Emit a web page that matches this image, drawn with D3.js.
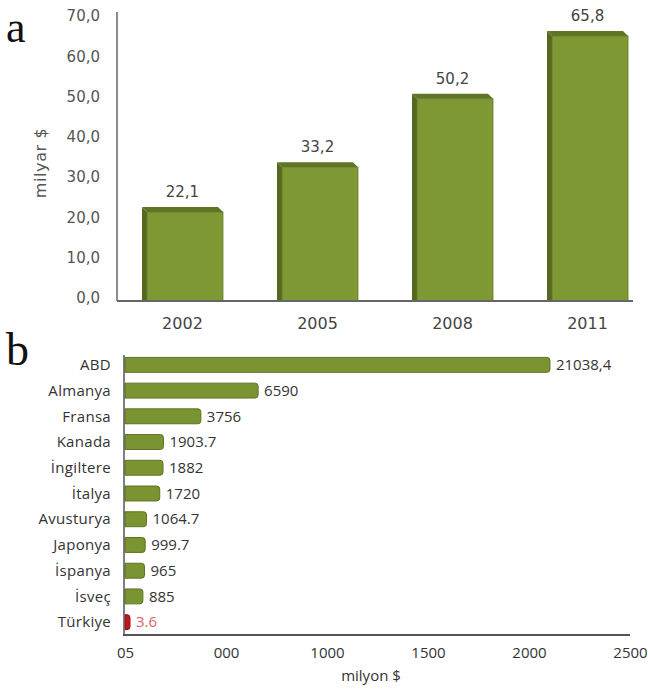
<!DOCTYPE html>
<html>
<head>
<meta charset="utf-8">
<script src="https://cdn.jsdelivr.net/npm/d3@7"></script>
<style>
  body { margin: 0; background: #fff; }
  svg { display: block; }
</style>
</head>
<body>
<svg id="chart" width="648" height="691"></svg>
<script>
// (a) yearly totals, billion $
const years = ["2002", "2005", "2008", "2011"];
const totals = [22.1, 33.2, 50.2, 65.8];
const totalTicks = [0, 10, 20, 30, 40, 50, 60, 70];

// (b) totals by country, million $
const countries = ["ABD", "Almanya", "Fransa", "Kanada", "İngiltere", "İtalya",
                   "Avusturya", "Japonya", "İspanya", "İsveç", "Türkiye"];
const amounts = [21038.4, 6590, 3756, 1903.7, 1882, 1720, 1064.7, 999.7, 965, 885, 3.6];
const amountLabels = ["21038,4", "6590", "3756", "1903.7", "1882", "1720",
                      "1064.7", "999.7", "965", "885", "3.6"];
const amountTicks = [0, 5000, 10000, 15000, 20000, 25000];
const amountTickLabels = ["05", "000", "1000", "1500", "2000", "2500"];
const highlighted = "Türkiye";

const svg = d3.select("#chart");
const topFont = "'DejaVu Sans', Verdana, sans-serif";
const botFont = "'Open Sans', 'Noto Sans', sans-serif";

// ---------- panel letters ----------
svg.append("text").attr("x", 6).attr("y", 42)
  .attr("font-family", "'Liberation Serif', 'Times New Roman', serif")
  .attr("font-size", 44).attr("fill", "#111").text("a");
svg.append("text").attr("x", 6).attr("y", 365)
  .attr("font-family", "'Liberation Serif', 'Times New Roman', serif")
  .attr("font-size", 46).attr("fill", "#111").text("b");

// ---------- (a) 3D column chart ----------
const xA = d3.scaleBand().domain(years).range([117, 653])
  .paddingInner(0.4).paddingOuter(0.185);
const yA = d3.scaleLinear().domain([0, 70]).range([301, 19]);
const depth = 5;
const gA = svg.append("g");

gA.append("g")
  .attr("transform", "translate(117,0)")
  .call(d3.axisLeft(yA).tickValues(totalTicks).tickSize(0).tickPadding(17)
    .tickFormat(d => d3.format(".1f")(d).replace(".", ",")))
  .call(g => g.select(".domain").remove())
  .selectAll("text")
  .attr("font-family", topFont).attr("font-size", 15)
  .attr("fill", "#555").attr("dy", "0.12em");

gA.append("line")
  .attr("x1", 117).attr("x2", 117)
  .attr("y1", yA(70) - 7).attr("y2", yA(0))
  .attr("stroke", "#666").attr("stroke-width", 1.5);

const yearData = years.map((yr, i) => ({ year: yr, value: totals[i] }));
const bars = gA.selectAll("g.bar").data(yearData).join("g").attr("class", "bar");

// left side face
bars.append("polygon")
  .attr("points", d => {
    const bx = xA(d.year), yv = yA(d.value), yb = yA(0);
    return [[bx + depth, yv], [bx, yv - depth], [bx, yb], [bx + depth, yb]].join(" ");
  })
  .attr("fill", "#56681d");

// top face
bars.append("polygon")
  .attr("points", d => {
    const bx = xA(d.year), bw = xA.bandwidth(), yv = yA(d.value);
    return [[bx + depth, yv], [bx, yv - depth], [bx + bw - depth, yv - depth], [bx + bw, yv]].join(" ");
  })
  .attr("fill", "#5f7424");

// front face
bars.append("rect")
  .attr("x", d => xA(d.year) + depth)
  .attr("y", d => yA(d.value))
  .attr("width", xA.bandwidth() - depth)
  .attr("height", d => yA(0) - yA(d.value))
  .attr("fill", "#7e9834")
  .attr("stroke", "#66792a").attr("stroke-width", 0.8);

bars.append("text")
  .attr("x", d => xA(d.year) + xA.bandwidth() / 2)
  .attr("y", d => yA(d.value) - 15)
  .attr("text-anchor", "middle")
  .attr("font-family", topFont).attr("font-size", 15).attr("fill", "#444")
  .text(d => d3.format(".1f")(d.value).replace(".", ","));

gA.append("line")
  .attr("x1", 117).attr("x2", 633)
  .attr("y1", yA(0)).attr("y2", yA(0))
  .attr("stroke", "#666").attr("stroke-width", 2);

gA.append("g")
  .attr("transform", `translate(0,${yA(0)})`)
  .call(d3.axisBottom(xA).tickSize(0).tickPadding(17))
  .call(g => g.select(".domain").remove())
  .selectAll("text")
  .attr("font-family", topFont).attr("font-size", 16).attr("fill", "#444");

gA.append("text")
  .attr("transform", "translate(46,163) rotate(-90)")
  .attr("text-anchor", "middle")
  .attr("font-family", topFont).attr("font-size", 16).attr("fill", "#555")
  .attr("letter-spacing", 0.6)
  .text("milyar $");

// ---------- (b) horizontal bar chart ----------
const xB = d3.scaleLinear().domain([0, 25000]).range([125, 630]);
const yB = d3.scaleBand().domain(countries).range([352, 635])
  .paddingInner(0.42).paddingOuter(0.21);
const gB = svg.append("g");
const minBar = 5;

function roundedRight(x0, y, w, h, r) {
  r = Math.min(r, w, h / 2);
  return `M${x0},${y}H${x0 + w - r}Q${x0 + w},${y} ${x0 + w},${y + r}` +
         `V${y + h - r}Q${x0 + w},${y + h} ${x0 + w - r},${y + h}H${x0}Z`;
}

const countryData = countries.map((c, i) => ({ name: c, value: amounts[i], label: amountLabels[i] }));
const barW = d => Math.max(xB(d.value) - xB(0), minBar);

gB.selectAll("path.hbar").data(countryData).join("path")
  .attr("class", "hbar")
  .attr("d", d => roundedRight(xB(0), yB(d.name), barW(d), yB.bandwidth(), 3))
  .attr("fill", d => d.name === highlighted ? "#c3161f" : "#7a9431")
  .attr("stroke", d => d.name === highlighted ? "#8e0f16" : "#5f7324")
  .attr("stroke-width", 1);

gB.selectAll("text.val").data(countryData).join("text")
  .attr("class", "val")
  .attr("x", d => xB(0) + barW(d) + 6)
  .attr("y", d => yB(d.name) + yB.bandwidth() / 2)
  .attr("dy", "0.35em")
  .attr("font-family", botFont).attr("font-size", 15)
  .attr("fill", d => d.name === highlighted ? "#e0616a" : "#333")
  .text(d => d.label);

gB.selectAll("text.cat").data(countryData).join("text")
  .attr("class", "cat")
  .attr("x", 111)
  .attr("y", d => yB(d.name) + yB.bandwidth() / 2)
  .attr("dy", "0.35em")
  .attr("text-anchor", "end")
  .attr("font-family", botFont).attr("font-size", 15).attr("fill", "#333")
  .attr("letter-spacing", 0.3)
  .text(d => d.name);

gB.append("line")
  .attr("x1", 124).attr("x2", 124).attr("y1", 355).attr("y2", 635)
  .attr("stroke", "#555").attr("stroke-width", 1.5);
gB.append("line")
  .attr("x1", 123).attr("x2", 630).attr("y1", 635).attr("y2", 635)
  .attr("stroke", "#555").attr("stroke-width", 2);

gB.append("g")
  .attr("transform", "translate(0,635)")
  .call(d3.axisBottom(xB).tickValues(amountTicks).tickSize(0).tickPadding(12)
    .tickFormat((d, i) => amountTickLabels[i]))
  .call(g => g.select(".domain").remove())
  .selectAll("text")
  .attr("font-family", botFont).attr("font-size", 15).attr("fill", "#333");

gB.append("text")
  .attr("x", 371).attr("y", 681)
  .attr("text-anchor", "middle")
  .attr("font-family", botFont).attr("font-size", 15).attr("fill", "#333")
  .text("milyon $");
</script>
</body>
</html>
